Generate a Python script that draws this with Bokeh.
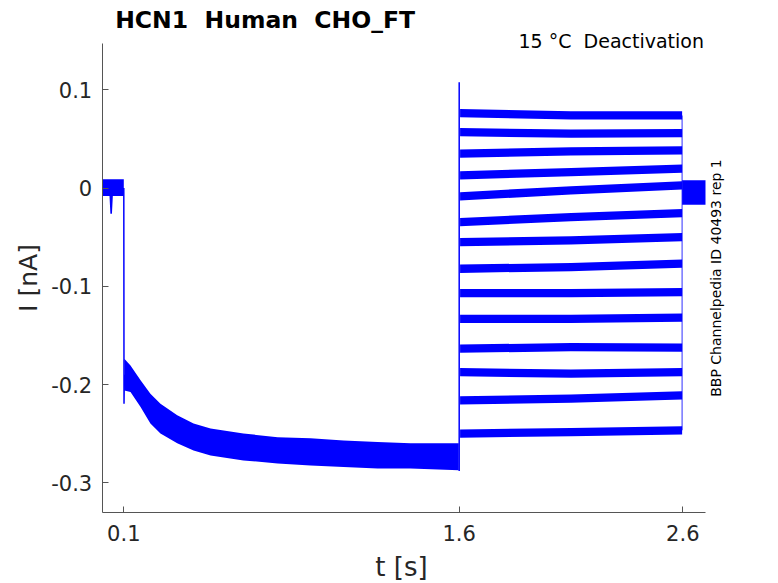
from bokeh.plotting import figure
from bokeh.models import Range1d, FixedTicker, Label
from bokeh.embed import file_html
from bokeh.resources import INLINE
import math

# ---------------- data ----------------
# holding segment before the pulse (noise envelope, nA)
t_hold = [0.0035, 0.036, 0.040, 0.047, 0.051, 0.1]
hold_top = [0.009, 0.009, 0.009, 0.009, 0.009, 0.009]
hold_bot = [-0.008, -0.008, -0.026, -0.026, -0.008, -0.008]

# step onset at t = 0.1 s
t_onset = [0.1, 0.101, 0.1025]
v_onset = [0.0, -0.2195, -0.19]

# activation (hyperpolarising) segment, noise envelope
t_decay = [0.1025, 0.130, 0.175, 0.219, 0.264, 0.339, 0.412, 0.488,
           0.635, 0.788, 0.935, 1.083, 1.235, 1.382, 1.598]
decay_top = [-0.1736, -0.1805, -0.1957, -0.2093, -0.2194, -0.2313, -0.2395, -0.2446,
             -0.2497, -0.2537, -0.2547, -0.2568, -0.2585, -0.2598, -0.2598]
decay_bot = [-0.2059, -0.2076, -0.2229, -0.2395, -0.2497, -0.2598, -0.2670, -0.2721,
             -0.2772, -0.2802, -0.2823, -0.2840, -0.2853, -0.2853, -0.2873]

# capacitive spike at t = 1.6 s
t_spike = [1.6, 1.6]
v_spike = [-0.288, 0.1078]

# deactivation steps (14 sweeps): level at start, middle, end of step
t_step = [1.604, 2.1, 2.597]
level_start = [0.0763, 0.0570, 0.0350, 0.0129, -0.0084, -0.0346, -0.0550,
               -0.0821, -0.1069, -0.1330, -0.1635, -0.1873, -0.2161, -0.2500]
level_mid = [0.0740, 0.0554, 0.0374, 0.0163, -0.0023, -0.0295, -0.0532,
             -0.0804, -0.1069, -0.1330, -0.1618, -0.1889, -0.2144, -0.2483]
level_end = [0.0740, 0.0560, 0.0384, 0.0197, 0.0027, -0.0254, -0.0499,
             -0.0770, -0.1058, -0.1319, -0.1624, -0.1873, -0.2110, -0.2466]
step_halfwidth = 0.0042

# return to holding after t = 2.6 s
t_tail = [2.597, 2.7015]
tail_top = [0.008, 0.008]
tail_bot = [-0.017, -0.017]

# axis extents of the original plot box
x_lim = (0.0034, 2.7015)
y_lim = (-0.3305, 0.1468)

x_ticks = [0.1, 1.6, 2.6]
x_tick_labels = ["0.1", "1.6", "2.6"]
y_ticks = [-0.3, -0.2, -0.1, 0.0, 0.1]
y_tick_labels = ["-0.3", "-0.2", "-0.1", "0", "0.1"]

title_text = "HCN1 \u00a0Human \u00a0CHO_FT"
subtitle_text = "15 \u00b0C \u00a0Deactivation"
side_text = "BBP Channelpedia ID 40493 rep 1"
x_label = "t [s]"
y_label = "I [nA]"

# ---------------- figure ----------------
BLUE = "#0000ff"
TXT = "#262626"
FONT = "DejaVu Sans"
W, H = 778, 583

# the frame fills the whole canvas; the axes are drawn at fixed data locations
p = figure(width=W, height=H, output_backend="svg", toolbar_location=None,
           title=None,
           x_range=Range1d(-0.45143, 3.02800), y_range=Range1d(-0.40246, 0.19093),
           min_border=0)
p.background_fill_color = "white"
p.border_fill_color = "white"
p.outline_line_color = None
p.grid.visible = False

# traces
p.varea(x=t_hold, y1=hold_bot, y2=hold_top, fill_color=BLUE)
p.line(t_onset, v_onset, line_color=BLUE, line_width=1.5)
p.varea(x=t_decay, y1=decay_bot, y2=decay_top, fill_color=BLUE)
p.line(t_spike, v_spike, line_color=BLUE, line_width=1.5)
for a, b, c in zip(level_start, level_mid, level_end):
    lv = [a, b, c]
    p.varea(x=t_step, y1=[v - step_halfwidth for v in lv],
            y2=[v + step_halfwidth for v in lv], fill_color=BLUE)
p.line([t_step[-1], t_step[-1]], [min(level_end), max(level_end)],
       line_color=BLUE, line_alpha=0.55, line_width=1.5)
p.varea(x=t_tail, y1=tail_bot, y2=tail_top, fill_color=BLUE)

# axes
for ax in (p.xaxis[0], p.yaxis[0]):
    ax.axis_line_color = "#555555"
    ax.axis_line_width = 1
    ax.major_tick_line_color = "#555555"
    ax.major_tick_in = 6
    ax.major_tick_out = 0
    ax.minor_tick_line_color = None
    ax.major_label_text_font = FONT
    ax.major_label_text_font_size = "21px"
    ax.major_label_text_color = TXT

p.xaxis.fixed_location = y_lim[0]
p.xaxis.bounds = x_lim
p.xaxis.ticker = FixedTicker(ticks=x_ticks)
p.xaxis.major_label_overrides = {t: s for t, s in zip(x_ticks, x_tick_labels)}
p.xaxis.major_label_standoff = 12

p.yaxis.fixed_location = x_lim[0]
p.yaxis.bounds = y_lim
p.yaxis.ticker = FixedTicker(ticks=y_ticks)
p.yaxis.major_label_overrides = {t: s for t, s in zip(y_ticks, y_tick_labels)}
p.yaxis.major_label_standoff = 10

# texts
p.add_layout(Label(x=0.06154, y=0.17088, text=title_text, text_font=FONT,
                   text_font_style="bold", text_font_size="23.5px", text_color="#000000",
                   text_align="left", text_baseline="alphabetic"))
p.add_layout(Label(x=2.69481, y=0.14951, text=subtitle_text, text_font=FONT,
                   text_font_size="19px", text_color="#000000",
                   text_align="right", text_baseline="alphabetic"))
p.add_layout(Label(x=2.74938, y=-0.09151, text=side_text, text_font=FONT,
                   text_font_size="14px", text_color="#000000", angle=math.pi / 2,
                   text_align="center", text_baseline="alphabetic"))
p.add_layout(Label(x=1.34195, y=-0.38617, text=x_label, text_font=FONT,
                   text_font_size="26px", text_color=TXT,
                   text_align="center", text_baseline="alphabetic"))
p.add_layout(Label(x=-0.32621, y=-0.09151, text=y_label, text_font=FONT,
                   text_font_size="25px", text_color=TXT, angle=math.pi / 2,
                   text_align="center", text_baseline="alphabetic"))

open("out.html", "w").write(file_html(p, INLINE))
